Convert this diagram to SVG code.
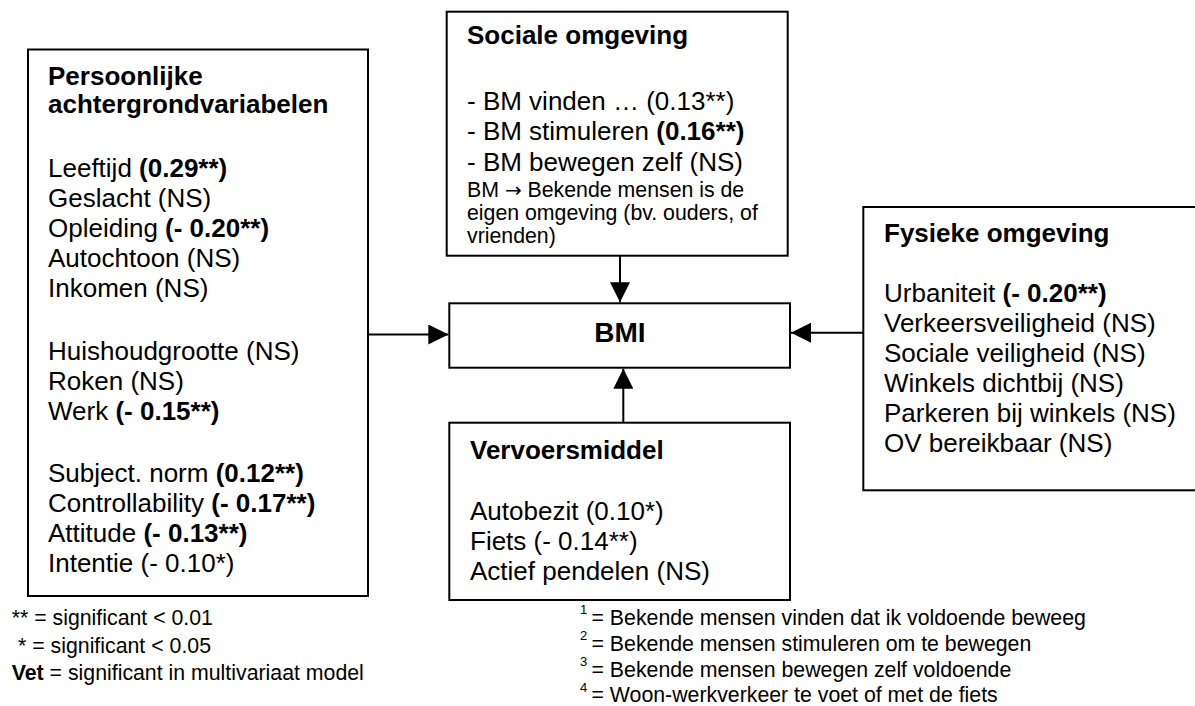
<svg xmlns="http://www.w3.org/2000/svg" width="1195" height="706" viewBox="0 0 1195 706">
<style>
text{font-family:"Liberation Sans",Arial,sans-serif;fill:#000}
.t{font-size:26px}
.h{font-size:26px;font-weight:bold}
.s{font-size:21.3px}
.sup{font-size:13px}
.b{font-weight:bold}
.arr{font-family:"DejaVu Sans",sans-serif;font-size:20px}
.box{fill:#fff;stroke:#000;stroke-width:2}
.con{stroke:#000;stroke-width:2;fill:none}
</style>
<defs>
<marker id="ah" markerUnits="userSpaceOnUse" markerWidth="20" markerHeight="20" refX="20" refY="10" orient="auto" viewBox="0 0 20 20">
<path d="M0,0 L20,10 L0,20 z" fill="#000"/>
</marker>
</defs>
<rect width="1195" height="706" fill="#fff"/>

<g id="persoonlijk">
<rect class="box" x="28" y="49.5" width="340" height="546.5"/>
<text class="h" x="48" y="85">Persoonlijke</text>
<text class="h" x="48" y="113">achtergrondvariabelen</text>
<text class="t" x="48" y="177">Leeftijd <tspan class="b">(0.29**)</tspan></text>
<text class="t" x="48" y="207">Geslacht (NS)</text>
<text class="t" x="48" y="237">Opleiding <tspan class="b">(- 0.20**)</tspan></text>
<text class="t" x="48" y="267">Autochtoon (NS)</text>
<text class="t" x="48" y="297">Inkomen (NS)</text>
<text class="t" x="48" y="360">Huishoudgrootte (NS)</text>
<text class="t" x="48" y="390">Roken (NS)</text>
<text class="t" x="48" y="420">Werk <tspan class="b">(- 0.15**)</tspan></text>
<text class="t" x="48" y="482">Subject. norm <tspan class="b">(0.12**)</tspan></text>
<text class="t" x="48" y="512">Controllability <tspan class="b">(- 0.17**)</tspan></text>
<text class="t" x="48" y="542">Attitude <tspan class="b">(- 0.13**)</tspan></text>
<text class="t" x="48" y="572">Intentie (- 0.10*)</text>
</g>

<g id="sociaal">
<rect class="box" x="446.7" y="11.7" width="341" height="244"/>
<text class="h" x="467" y="44">Sociale omgeving</text>
<text class="t" x="467" y="110">- BM vinden … (0.13**)</text>
<text class="t" x="467" y="140">- BM stimuleren <tspan class="b">(0.16**)</tspan></text>
<text class="t" x="467" y="170.5">- BM bewegen zelf (NS)</text>
<text class="s" x="467" y="197">BM <tspan class="arr">→</tspan> Bekende mensen is de</text>
<text class="s" x="467" y="220">eigen omgeving (bv. ouders, of</text>
<text class="s" x="467" y="243">vrienden)</text>
</g>

<g id="bmi">
<rect class="box" x="449.3" y="303.3" width="340.7" height="64.4"/>
<text x="620" y="342" text-anchor="middle" style="font-size:28px;font-weight:bold">BMI</text>
</g>

<g id="vervoer">
<rect class="box" x="449.3" y="422.7" width="340.7" height="177.3"/>
<text class="h" x="470" y="458.5">Vervoersmiddel</text>
<text class="t" x="470" y="519.5">Autobezit (0.10*)</text>
<text class="t" x="470" y="549.5">Fiets (- 0.14**)</text>
<text class="t" x="470" y="580">Actief pendelen (NS)</text>
</g>

<g id="fysiek">
<rect class="box" x="863.3" y="207" width="400" height="283.3"/>
<text class="h" x="884" y="242">Fysieke omgeving</text>
<text class="t" x="884" y="302">Urbaniteit <tspan class="b">(- 0.20**)</tspan></text>
<text class="t" x="884" y="332">Verkeersveiligheid (NS)</text>
<text class="t" x="884" y="362">Sociale veiligheid (NS)</text>
<text class="t" x="884" y="392">Winkels dichtbij (NS)</text>
<text class="t" x="884" y="422">Parkeren bij winkels (NS)</text>
<text class="t" x="884" y="452">OV bereikbaar (NS)</text>
</g>

<g id="connectors">
<line class="con" x1="620" y1="255.7" x2="620" y2="302.3" marker-end="url(#ah)"/>
<line class="con" x1="368" y1="334.5" x2="448.3" y2="334.5" marker-end="url(#ah)"/>
<line class="con" x1="863.3" y1="332.7" x2="791" y2="332.7" marker-end="url(#ah)"/>
<line class="con" x1="623.3" y1="422.7" x2="623.3" y2="368.7" marker-end="url(#ah)"/>
</g>

<g id="legenda">
<text class="s" x="11.7" y="625">** = significant &lt; 0.01</text>
<text class="s" x="18" y="653">* = significant &lt; 0.05</text>
<text class="s" x="11.7" y="680"><tspan class="b">Vet</tspan> = significant in multivariaat model</text>
</g>

<g id="voetnoten">
<text class="sup" x="580" y="614">1</text>
<text class="s" x="591.5" y="625">= Bekende mensen vinden dat ik voldoende beweeg</text>
<text class="sup" x="580" y="640">2</text>
<text class="s" x="591.5" y="651">= Bekende mensen stimuleren om te bewegen</text>
<text class="sup" x="580" y="666">3</text>
<text class="s" x="591.5" y="677">= Bekende mensen bewegen zelf voldoende</text>
<text class="sup" x="580" y="692">4</text>
<text class="s" x="591.5" y="702">= Woon-werkverkeer te voet of met de fiets</text>
</g>
</svg>
